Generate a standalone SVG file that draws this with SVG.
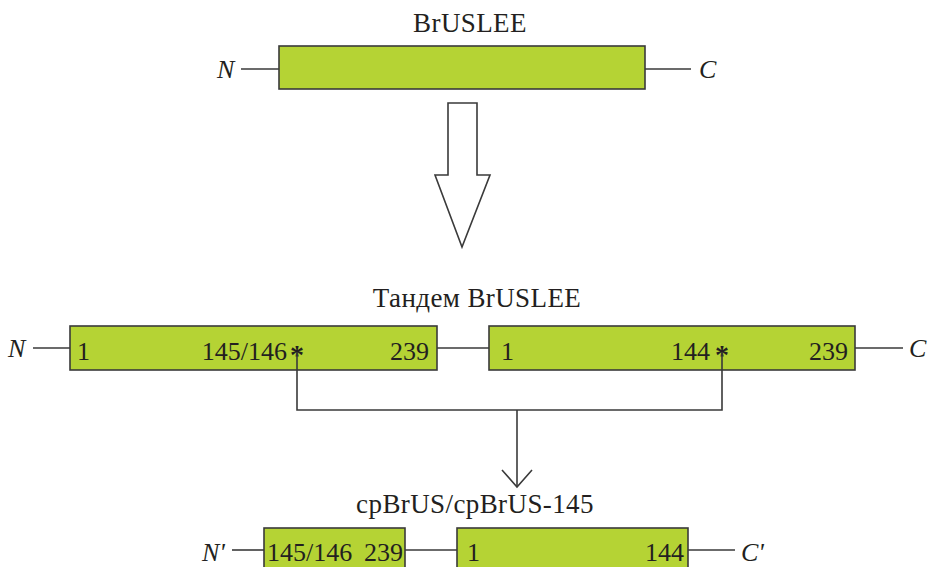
<svg xmlns="http://www.w3.org/2000/svg" width="929" height="567" viewBox="0 0 929 567">
<style>
.box{fill:#b5d334;stroke:#3a3a3a;stroke-width:1.6}
.ln{stroke:#3a3a3a;stroke-width:1.6;fill:none}
.t{font-family:"Liberation Serif","Times New Roman",serif;fill:#231f20}
.title{font-size:27px;text-anchor:middle;letter-spacing:0.4px}
.num{font-size:26px}
.term{font-size:26px;font-style:italic}
.ast{font-size:28px;text-anchor:middle;font-weight:bold}
</style>
<rect width="929" height="567" fill="#ffffff"/>
<g id="bruslee">
<text class="t title" x="470" y="32">BrUSLEE</text>
<line class="ln" x1="241" y1="69" x2="279" y2="69"/>
<line class="ln" x1="645" y1="69" x2="691" y2="69"/>
<rect class="box" x="279" y="46" width="366" height="43"/>
<text class="t term" x="217" y="78">N</text>
<text class="t term" x="699" y="78">C</text>
</g>
<g id="big-arrow">
<polygon points="448,103 477,103 477,175 490,175 462,247 435,175 448,175" fill="#ffffff" stroke="#3a3a3a" stroke-width="1.6" stroke-linejoin="miter"/>
</g>
<g id="tandem">
<text class="t title" x="477" y="307">Тандем BrUSLEE</text>
<line class="ln" x1="33" y1="348" x2="70" y2="348"/>
<line class="ln" x1="437" y1="348" x2="489" y2="348"/>
<line class="ln" x1="855" y1="348" x2="903" y2="348"/>
<rect class="box" x="70" y="326" width="367" height="44"/>
<rect class="box" x="489" y="326" width="366" height="44"/>
<text class="t term" x="8" y="357">N</text>
<text class="t term" x="909" y="357">C</text>
<text class="t num" x="77" y="360">1</text>
<text class="t num" x="287" y="360" text-anchor="end">145/146</text>
<text class="t num" x="429" y="360" text-anchor="end">239</text>
<text class="t num" x="501" y="360">1</text>
<text class="t num" x="710" y="360" text-anchor="end">144</text>
<text class="t num" x="848" y="360" text-anchor="end">239</text>
<text class="t ast" x="297" y="364">*</text>
<text class="t ast" x="722" y="364">*</text>
</g>
<g id="connectors">
<polyline class="ln" points="297,352 297,410 722,410 722,352"/>
<line class="ln" x1="517" y1="410" x2="517" y2="487"/>
<polyline class="ln" points="502,470 517,487 532,470"/>
</g>
<g id="cpbrus">
<text class="t title" x="475" y="513">cpBrUS/cpBrUS-145</text>
<line class="ln" x1="232" y1="550" x2="264" y2="550"/>
<line class="ln" x1="405" y1="550" x2="457" y2="550"/>
<line class="ln" x1="688" y1="550" x2="735" y2="550"/>
<rect class="box" x="264" y="528" width="141" height="60"/>
<rect class="box" x="457" y="528" width="231" height="60"/>
<text class="t term" x="202" y="561">N'</text>
<text class="t term" x="741" y="561">C'</text>
<text class="t num" x="267" y="561">145/146</text>
<text class="t num" x="403" y="561" text-anchor="end">239</text>
<text class="t num" x="467" y="561">1</text>
<text class="t num" x="684" y="561" text-anchor="end">144</text>
</g>
</svg>
